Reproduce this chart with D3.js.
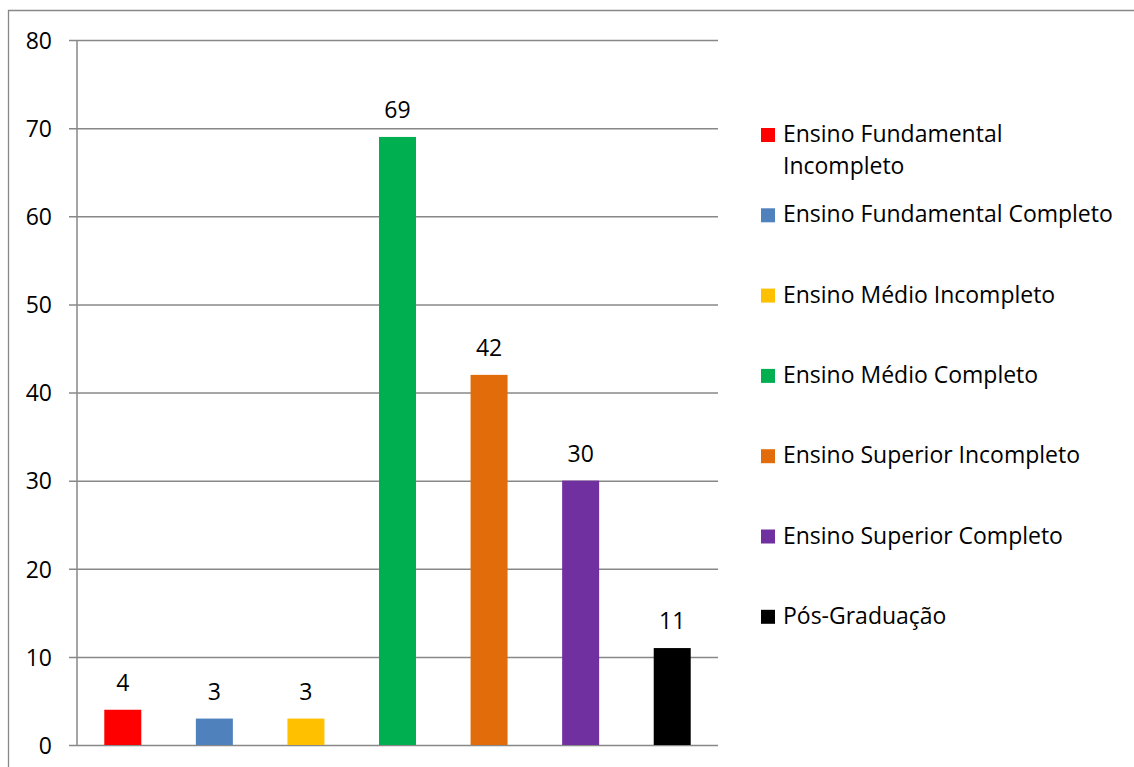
<!DOCTYPE html>
<html>
<head>
<meta charset="utf-8">
<script src="https://cdn.jsdelivr.net/npm/d3@7"></script>
<style>
  html, body { margin: 0; padding: 0; background: #fff; }
  svg { display: block; }
  text { font-family: "Open Sans", sans-serif; fill: #000; }
</style>
</head>
<body>
<script>
// Escolaridade dos respondentes
const categories = [
  "Ensino Fundamental Incompleto",
  "Ensino Fundamental Completo",
  "Ensino Médio Incompleto",
  "Ensino Médio Completo",
  "Ensino Superior Incompleto",
  "Ensino Superior Completo",
  "Pós-Graduação"
];
const values = [4, 3, 3, 69, 42, 30, 11];
const colors = ["#FF0000", "#4F81BD", "#FFC000", "#00B050", "#E36C0A", "#7030A0", "#000000"];
const legendLines = [
  ["Ensino Fundamental", "Incompleto"],
  ["Ensino Fundamental Completo"],
  ["Ensino Médio Incompleto"],
  ["Ensino Médio Completo"],
  ["Ensino Superior Incompleto"],
  ["Ensino Superior Completo"],
  ["Pós-Graduação"]
];
const yTicks = [0, 10, 20, 30, 40, 50, 60, 70, 80];

const W = 1134, H = 767;
const plot = { left: 77, right: 718, top: 40, bottom: 745 };
const gridColor = "#888888";

const svg = d3.select("body").append("svg")
  .attr("width", W).attr("height", H);

// pick a font size so the longest legend entry spans ~330px
const probe = svg.append("text").attr("font-size", 20).text("Ensino Fundamental Completo");
const fontSize = 20 * 330 / probe.node().getComputedTextLength();
probe.remove();

// outer chart frame (top and left edges visible)
svg.append("path")
  .attr("d", `M8.5,${H} V10.5 H${W}`)
  .attr("fill", "none")
  .attr("stroke", gridColor)
  .attr("stroke-width", 1.3);

const x = d3.scaleBand()
  .domain(categories)
  .range([plot.left, plot.right])
  .paddingInner(0.596)
  .paddingOuter(0.298);

const y = d3.scaleLinear()
  .domain([0, 80])
  .range([plot.bottom, plot.top]);

// horizontal gridlines with tick stubs and labels
const yAxis = d3.axisLeft(y)
  .tickValues(yTicks)
  .tickSize(-(plot.right - plot.left))
  .tickPadding(0)
  .tickFormat(d3.format("d"));

const gy = svg.append("g")
  .attr("transform", `translate(${plot.left},0)`)
  .call(yAxis);
gy.select(".domain").remove();
gy.selectAll(".tick line")
  .attr("x1", -8)
  .attr("stroke", gridColor)
  .attr("stroke-width", 1.5);
gy.selectAll(".tick text")
  .attr("x", -25)
  .attr("dy", "0.36em")
  .attr("font-size", fontSize)
  .style("font-family", "'Open Sans', sans-serif")
  .attr("fill", "#000");

// vertical axis line
svg.append("line")
  .attr("x1", plot.left).attr("x2", plot.left)
  .attr("y1", plot.top).attr("y2", plot.bottom)
  .attr("stroke", gridColor)
  .attr("stroke-width", 1.5);

// bars
svg.append("g").selectAll("rect")
  .data(categories)
  .join("rect")
  .attr("x", d => x(d))
  .attr("width", x.bandwidth())
  .attr("y", (d, i) => y(values[i]))
  .attr("height", (d, i) => y(0) - y(values[i]))
  .attr("fill", (d, i) => colors[i]);

// value labels above the bars
svg.append("g").selectAll("text")
  .data(categories)
  .join("text")
  .attr("x", d => x(d) + x.bandwidth() / 2)
  .attr("y", (d, i) => y(values[i]) - 19)
  .attr("text-anchor", "middle")
  .attr("font-size", fontSize)
  .text((d, i) => values[i]);

// legend
const legendX = 761, legendTextX = 783, legendY0 = 142, legendStep = 80.3;
const lg = svg.append("g").selectAll("g")
  .data(categories)
  .join("g")
  .attr("transform", (d, i) => `translate(0,${legendY0 + i * legendStep})`);

lg.append("rect")
  .attr("x", legendX)
  .attr("y", -14)
  .attr("width", 14)
  .attr("height", 14)
  .attr("fill", (d, i) => colors[i]);

lg.append("text")
  .attr("x", legendTextX)
  .attr("font-size", fontSize)
  .selectAll("tspan")
  .data((d, i) => legendLines[i])
  .join("tspan")
  .attr("x", legendTextX)
  .attr("dy", (d, j) => j === 0 ? 0 : 32)
  .text(d => d);
</script>
</body>
</html>
